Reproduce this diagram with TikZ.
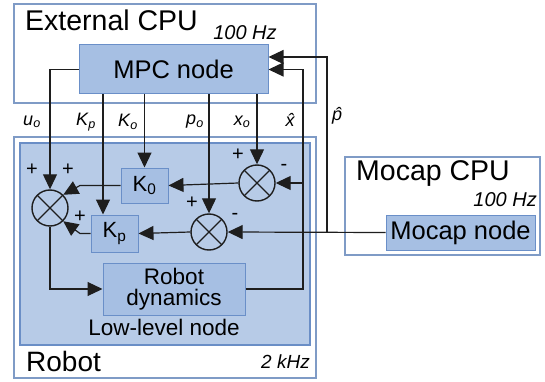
\documentclass[tikz,border=0pt]{standalone}
\usepackage{fontspec}
\setmainfont{Liberation Sans}
\usetikzlibrary{arrows.meta,calc}
\definecolor{contborder}{HTML}{7F9BC6}
\definecolor{innerfill}{HTML}{B7CBE7}
\definecolor{innerborder}{HTML}{6A8EC6}
\definecolor{nodefill}{HTML}{A6BFE3}
\definecolor{nodeborder}{HTML}{6A8FC8}
\definecolor{linecol}{HTML}{1E1E1E}
\newcommand{\fs}[1]{\fontsize{#1}{#1}\selectfont}
\tikzset{
  container/.style={draw=contborder, line width=1.2pt, fill=white, rectangle, inner sep=0pt},
  innerbox/.style={draw=innerborder, line width=1.2pt, fill=innerfill, rectangle, inner sep=0pt},
  blk/.style={draw=nodeborder, line width=1pt, fill=nodefill, rectangle, inner sep=0pt, text=black},
  sumj/.style={circle, draw=linecol, line width=1.4pt, minimum size=36pt, inner sep=0pt,
    path picture={\draw[line width=1.4pt, linecol] (path picture bounding box.north west) -- (path picture bounding box.south east)
      (path picture bounding box.north east) -- (path picture bounding box.south west);}},
  conn/.style={draw=linecol, line width=1.2pt},
  arr/.style={conn, -{Triangle[length=15pt,width=14pt]}},
  sig/.style={font=\fs{18}\itshape, inner sep=0pt},
  sign/.style={font=\fs{20}, inner sep=0pt},
}
\begin{document}
\begin{tikzpicture}[x=1pt,y=-1pt]
\useasboundingbox (0,0) rectangle (545,382);
% containers
\node[container, minimum width=302, minimum height=99] (ext) at (165,53.5) {};
\node[container, minimum width=302, minimum height=241] (robot) at (165,257.5) {};
\node[innerbox, minimum width=290, minimum height=202] (low) at (165,244) {};
\node[container, minimum width=195, minimum height=98] (mocap) at (442.5,206) {};
% container labels
\node[anchor=west, font=\fs{28.5}, inner sep=0pt] (extlbl) at (25,20) {External CPU};
\node[font=\fs{20}\itshape, inner sep=0pt] (extfreq) at (245,33) {100 Hz};
\node[anchor=west, font=\fs{28}, inner sep=0pt] (robotlbl) at (26,361) {Robot};
\node[anchor=east, font=\fs{19}\itshape, inner sep=0pt] (robotfreq) at (310,362) {2 kHz};
\node[anchor=west, font=\fs{28.5}, inner sep=0pt] (mocaplbl) at (356,174) {Mocap CPU};
\node[anchor=east, font=\fs{20}\itshape, inner sep=0pt] (mocapfreq) at (537,200) {100 Hz};
\node[font=\fs{22.5}, inner sep=0pt] (lowlbl) at (164,327) {Low-level node};
% blocks
\node[blk, minimum width=189, minimum height=49, font=\fs{25.5}] (mpc) at (173.5,69.5) {MPC node};
\node[blk, minimum width=149, minimum height=35, font=\fs{25.5}] (mocapn) at (460.5,232.5) {Mocap node};
\node[blk, minimum width=47, minimum height=35, font=\fs{22}] (k0) at (144.5,185.5) {K\textsubscript{0}};
\node[blk, minimum width=47, minimum height=37, font=\fs{22}] (kp) at (114.5,233.5) {K\textsubscript{p}};
\node[blk, minimum width=142, minimum height=52, font=\fs{22.5}, align=center] (rd) at (174,289) {Robot\\[-1pt]dynamics};
% summing junctions
\node[sumj] (sl) at (50,208) {};
\node[sumj] (sa) at (257,183) {};
\node[sumj] (sb) at (209,232) {};
% bus coordinates
\coordinate (ckp) at (103,0);
\coordinate (cxh) at (303,0);
\coordinate (cph) at (327,0);
\coordinate (cbend) at (80,0);
\coordinate (pin) at (0,57);
% connectors
\draw[arr] (mpc.west) -| (sl.north);
\draw[arr] (mpc.south -| ckp) -- (kp.north -| ckp);
\draw[arr] (mpc.south -| k0.north) -- (k0.north);
\draw[arr] (mpc.south -| sb.north) -- (sb.north);
\draw[arr] (mpc.south -| sa.north) -- (sa.north);
\draw[arr] (sa.west) -- (k0.east);
\draw[arr] (sb.west) -- (kp.east);
\draw[arr] (k0.west) -- (k0.west -| cbend) -- (sl.45);
\draw[arr] (kp.west) -- (kp.west -| cbend) -- (sl.-45);
\draw[arr] (sl.south) |- (rd.west);
\draw[arr] (rd.east) -- (rd.east -| cxh) |- (mpc.east);
\draw[arr] (sa.east -| cxh) -- (sa.east);
\draw[arr] (mocapn.west) -- (sb.east);
\draw[arr] (mocapn.west -| cph) -- (pin -| cph) -- (pin -| mpc.east);
% signal labels
\node[sig] (lu) at (32,122) {u\textsubscript{o}};
\node[sig] (lkp) at (86,122) {K\textsubscript{p}};
\node[sig] (lko) at (128,122) {K\textsubscript{o}};
\node[sig] (lpo) at (195,122) {p\textsubscript{o}};
\node[sig] (lxo) at (242,122) {x\textsubscript{o}};
\node[sig] (lxh) at (290,120) {\^x};
\node[sig] (lph) at (337,116) {\^p};
% signs
\node[sign] (s1) at (32,170) {+};
\node[sign] (s2) at (68,170) {+};
\node[sign] (s3) at (80,217) {+};
\node[sign] (s4) at (238,155) {+};
\node[sign] (s5) at (284,167) {-};
\node[sign] (s6) at (192,203) {+};
\node[sign] (s7) at (235,216) {-};
\end{tikzpicture}
\end{document}
